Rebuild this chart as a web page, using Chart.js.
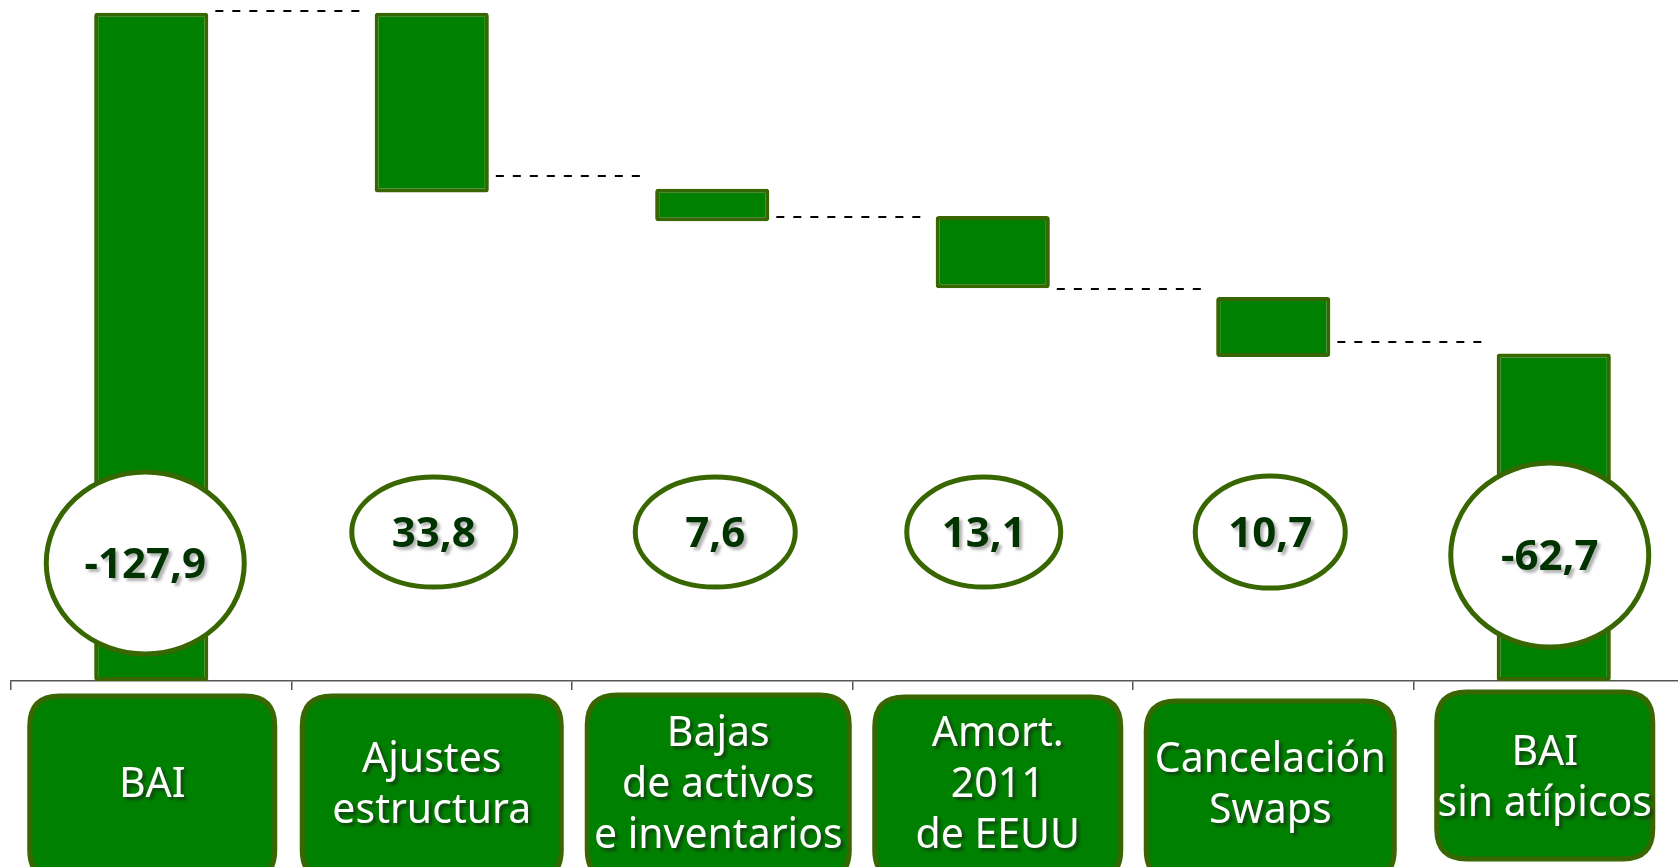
<!DOCTYPE html>
<html>
<head>
<meta charset="utf-8">
<script src="https://cdn.jsdelivr.net/npm/chart.js@4.4.0/dist/chart.umd.min.js"></script>
<style>
  html, body { margin: 0; padding: 0; background: #fff; overflow: hidden; }
  #bridge { display: block; }
</style>
</head>
<body>
<canvas id="bridge" width="1694" height="867"></canvas>
<script>
// categories (lines of each label box)
const categories = [
  ["BAI"],
  ["Ajustes", "estructura"],
  ["Bajas", "de activos", "e inventarios"],
  ["Amort.", "2011", "de EEUU"],
  ["Cancelación", "Swaps"],
  ["BAI", "sin atípicos"]
];
// floating bar ends (millions)
const barLow = [0, 93.5, 88.0, 75.2, 62.0, 0];
const barHigh = [127.9, 127.9, 94.2, 89.0, 73.5, 62.7];
// values written in the ovals
const valueLabels = ["-127,9", "33,8", "7,6", "13,1", "10,7", "-62,7"];
// dashed connector levels between neighbouring bars
const connectorLevels = [128.2, 96.6, 88.8, 75.0, 64.9];

// styling / placement of the decorations
const GREEN = "#008000";
const OLIVE = "#386600";
const DARK = "#003300";
const ovalLevel = [22.6, 28.5, 28.5, 28.5, 28.5, 24.1];
const ovalShift = [-6, 2, 3, -9, -3, -4];
const ovalSize = [[99, 91], [82, 55], [80, 55], [77, 55], [75, 56], [99, 92]];
const boxShift = [1, 0, 6, 5, -3, -9];
const boxWidth = [245, 259, 262, 246, 248, 216];
const boxTop = [696, 696, 695, 697, 701, 692];
const boxBottom = [880, 880, 880, 880, 880, 859];
const boxTextMid = [784, 784, 784, 784, 784, 777];

function roundRect(ctx, x, y, w, h, r) {
  ctx.beginPath();
  ctx.moveTo(x + r, y);
  ctx.lineTo(x + w - r, y);
  ctx.quadraticCurveTo(x + w, y, x + w, y + r);
  ctx.lineTo(x + w, y + h - r);
  ctx.quadraticCurveTo(x + w, y + h, x + w - r, y + h);
  ctx.lineTo(x + r, y + h);
  ctx.quadraticCurveTo(x, y + h, x, y + h - r);
  ctx.lineTo(x, y + r);
  ctx.quadraticCurveTo(x, y, x + r, y);
  ctx.closePath();
}

const decorations = {
  id: "decorations",
  afterDraw(chart) {
    const ctx = chart.ctx;
    const xs = chart.scales.x;
    const ys = chart.scales.y;
    const bars = chart.getDatasetMeta(0).data;

    // dashed connectors
    ctx.save();
    ctx.strokeStyle = "#000";
    ctx.lineWidth = 2;
    ctx.setLineDash([8, 9]);
    connectorLevels.forEach((lvl, i) => {
      const y = Math.round(ys.getPixelForValue(lvl));
      const a = bars[i], b = bars[i + 1];
      ctx.beginPath();
      ctx.moveTo(a.x + a.width / 2 + 7, y);
      ctx.lineTo(b.x - b.width / 2 - 7, y);
      ctx.stroke();
    });
    ctx.restore();

    // value ovals
    valueLabels.forEach((txt, i) => {
      const cx = xs.getPixelForValue(i) + ovalShift[i];
      const cy = ys.getPixelForValue(ovalLevel[i]);
      const [rx, ry] = ovalSize[i];
      ctx.save();
      ctx.beginPath();
      ctx.ellipse(cx, cy, rx, ry, 0, 0, Math.PI * 2);
      ctx.fillStyle = "#fff";
      ctx.fill();
      ctx.lineWidth = 5;
      ctx.strokeStyle = OLIVE;
      ctx.stroke();
      ctx.font = "bold 42px 'Noto Sans'";
      ctx.textAlign = "center";
      ctx.textBaseline = "alphabetic";
      ctx.shadowColor = "rgba(0,0,0,0.3)";
      ctx.shadowOffsetX = 3;
      ctx.shadowOffsetY = 3;
      ctx.shadowBlur = 3;
      ctx.fillStyle = DARK;
      ctx.fillText(txt, cx, cy + 15);
      ctx.restore();
    });

    // category boxes under the axis
    categories.forEach((lines, i) => {
      const cx = xs.getPixelForValue(i) + boxShift[i];
      const w = boxWidth[i];
      const top = boxTop[i];
      ctx.save();
      roundRect(ctx, cx - w / 2, top, w, boxBottom[i] - top, 30);
      ctx.fillStyle = GREEN;
      ctx.fill();
      ctx.lineWidth = 5;
      ctx.strokeStyle = OLIVE;
      ctx.stroke();
      ctx.font = "41px 'Noto Sans'";
      ctx.textAlign = "center";
      ctx.textBaseline = "alphabetic";
      ctx.shadowColor = "rgba(30,30,30,0.6)";
      ctx.shadowOffsetX = 3;
      ctx.shadowOffsetY = 3;
      ctx.shadowBlur = 3;
      ctx.fillStyle = "#fff";
      const lh = 51;
      lines.forEach((ln, k) => {
        ctx.fillText(ln, cx, boxTextMid[i] + 13 + (k - (lines.length - 1) / 2) * lh);
      });
      ctx.restore();
    });
  }
};

const data = {
  labels: categories.map(l => l.join(" ")),
  datasets: [{
    data: barLow.map((lo, i) => [lo, barHigh[i]]),
    backgroundColor: GREEN,
    borderColor: OLIVE,
    borderWidth: 4,
    borderRadius: 3,
    borderSkipped: false,
    barPercentage: 0.407,
    categoryPercentage: 1.0
  }]
};

const options = {
  responsive: false,
  animation: false,
  layout: { padding: { left: 11, top: 0, right: 0, bottom: 0 } },
  plugins: { legend: { display: false }, tooltip: { enabled: false } },
  scales: {
    x: {
      grid: { offset: true, drawOnChartArea: false, drawTicks: true, tickLength: 9, color: "#555", lineWidth: 1.5 },
      border: { display: true, color: "#555", width: 1.5 },
      ticks: { display: false },
      afterFit: (scale) => { scale.height = 186; }
    },
    y: { display: false, min: 0, max: 130.35 }
  }
};

new Chart(document.getElementById("bridge"), { type: "bar", data: data, options: options, plugins: [decorations] });
</script>
</body>
</html>
